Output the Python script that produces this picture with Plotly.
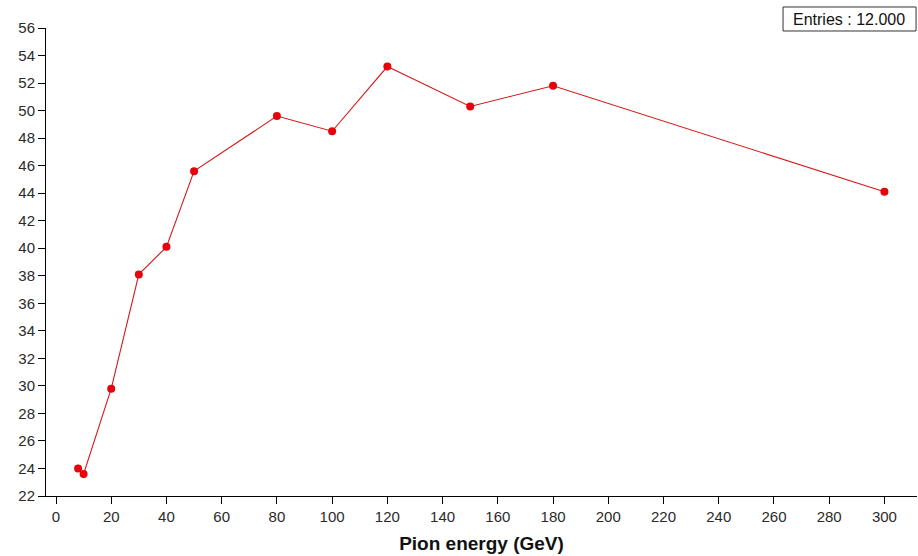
import plotly.graph_objects as go

# Data
energy_gev = [8, 10, 20, 30, 40, 50, 80, 100, 120, 150, 180, 300]
values = [24.0, 23.6, 29.8, 38.1, 40.1, 45.6, 49.6, 48.5, 53.2, 50.3, 51.8, 44.1]
x_ticks = list(range(0, 301, 20))
y_ticks = list(range(22, 57, 2))
x_title = "Pion energy (GeV)"
entries_label = "Entries : 12.000"

X_RANGE = [-3.62, 311.8]
Y_RANGE = [22, 56]
FONT = "Liberation Sans, Arial, sans-serif"
TICK_FONT = dict(family=FONT, size=15, color="#2a2a2a")

fig = go.Figure()
fig.add_trace(go.Scatter(
    x=energy_gev, y=values, mode="lines+markers",
    line=dict(color="#d41a1a", width=1.1),
    marker=dict(color="#e8000b", size=8),
    showlegend=False, cliponaxis=False,
))

common_axis = dict(showgrid=False, zeroline=False)
fig.update_layout(
    width=918, height=556,
    margin=dict(l=46, r=1, t=28, b=60),
    paper_bgcolor="white", plot_bgcolor="white",
    xaxis=dict(
        range=X_RANGE, tickmode="array", tickvals=x_ticks,
        ticktext=[str(v) for v in x_ticks],
        ticks="outside", ticklen=7, tickwidth=1, tickcolor="black",
        showline=True, linecolor="black", linewidth=1,
        tickfont=TICK_FONT,
        title=dict(text="<b>" + x_title + "</b>", standoff=12,
                   font=dict(family=FONT, size=19, color="#111111")),
        **common_axis,
    ),
    yaxis=dict(
        range=Y_RANGE, tickmode="array", tickvals=y_ticks,
        ticktext=[str(v) for v in y_ticks],
        ticks="outside", ticklen=7, tickwidth=1, tickcolor="black",
        showline=True, linecolor="black", linewidth=1,
        tickfont=TICK_FONT,
        **common_axis,
    ),
    xaxis2=dict(
        range=X_RANGE, overlaying="x", anchor="y", side="bottom",
        tickmode="array", tickvals=x_ticks, showticklabels=False,
        ticks="inside", ticklen=7, tickwidth=1, tickcolor="black",
        showline=False, **common_axis,
    ),
    yaxis2=dict(
        range=Y_RANGE, overlaying="y", anchor="x", side="left",
        tickmode="array", tickvals=y_ticks[1:], showticklabels=False,
        ticks="inside", ticklen=7, tickwidth=1, tickcolor="black",
        showline=False, **common_axis,
    ),
)

# Entries box
fig.add_shape(type="rect", xref="paper", yref="paper",
              x0=0.8462, x1=0.9989, y0=0.9936, y1=1.0449,
              line=dict(color="#333333", width=1), fillcolor="white", layer="above")
fig.add_annotation(xref="paper", yref="paper", x=0.9225, y=1.0192,
                   text=entries_label, showarrow=False,
                   xanchor="center", yanchor="middle",
                   font=dict(family=FONT, size=16, color="#111111"))

fig.write_html("out.html")
